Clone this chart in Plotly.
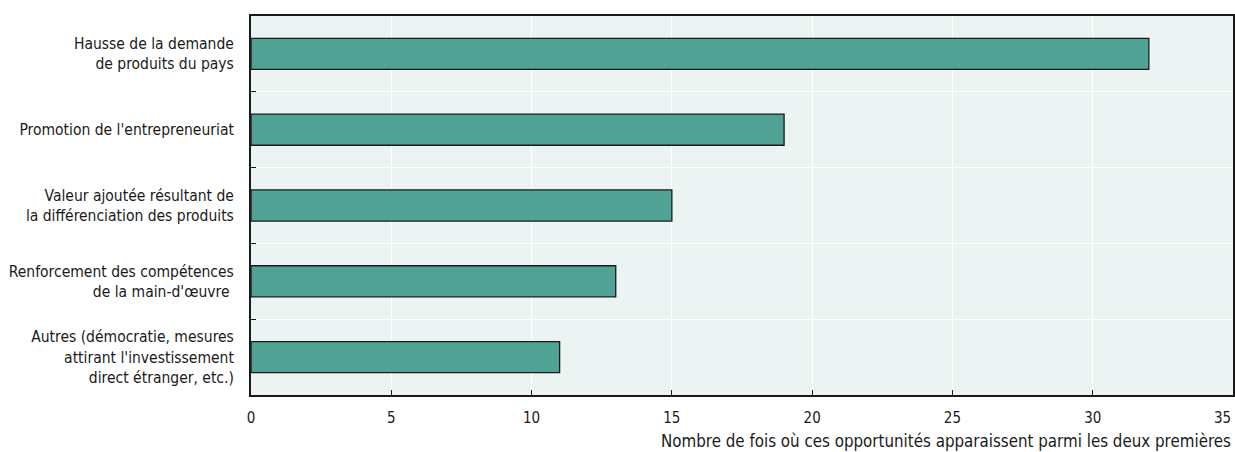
import plotly.graph_objects as go

categories = [
    "Hausse de la demande<br>de produits du pays",
    "Promotion de l'entrepreneuriat",
    "Valeur ajoutée résultant de<br>la différenciation des produits",
    "Renforcement des compétences<br>de la main-d'œuvre\u00a0",
    "Autres (démocratie, mesures<br>attirant l'investissement<br>direct étranger, etc.)",
]
values = [32, 19, 15, 13, 11]
x_ticks = [0, 5, 10, 15, 20, 25, 30, 35]
x_title = "Nombre de fois où ces opportunités apparaissent parmi les deux premières"

FONT = "DejaVu Sans Condensed, Liberation Sans Narrow, sans-serif"

fig = go.Figure(go.Bar(
    y=categories, x=values, orientation="h",
    marker=dict(color="#4fa294", line=dict(color="#1a1a1a", width=1.3)),
    width=0.41,
))

fig.update_layout(
    width=1235, height=452,
    margin=dict(l=251, r=2, t=16, b=57),
    paper_bgcolor="white", plot_bgcolor="#ebf4f2",
    font=dict(family=FONT, size=15.5, color="#1a1a1a"),
    showlegend=False,
    bargap=0.59,
)
fig.update_xaxes(
    range=[0, 35], tickvals=x_ticks, ticktext=[str(v) for v in x_ticks[:-1]] + [""],
    ticks="inside", ticklen=5, tickcolor="#1a1a1a", tickfont=dict(size=15),
    ticklabelstandoff=8,
    showgrid=True, gridcolor="white", gridwidth=1.2,
    showline=True, mirror=True, linecolor="#1a1a1a", linewidth=2,
    zeroline=False, automargin=False,
)
fig.update_yaxes(
    type="category", categoryorder="array", categoryarray=categories,
    autorange="reversed", tickson="boundaries", ticks="inside", ticklen=5, tickcolor="#1a1a1a",
    showgrid=True, gridcolor="white", gridwidth=1.2,
    showline=True, mirror=True, linecolor="#1a1a1a", linewidth=2,
    ticklabelstandoff=12, automargin=False,
)
fig.add_annotation(
    text=str(x_ticks[-1]), xref="x", yref="paper", x=x_ticks[-1], y=0,
    xanchor="right", yanchor="middle", yshift=-23, xshift=0, showarrow=False,
    font=dict(size=15),
)
fig.add_annotation(
    text=x_title, xref="paper", yref="paper", x=1, y=0, xanchor="right", yanchor="middle",
    yshift=-46, showarrow=False, font=dict(size=16.8),
)
fig.write_html("out.html", config={"displayModeBar": False},
               post_script="document.body.style.margin='0';")
